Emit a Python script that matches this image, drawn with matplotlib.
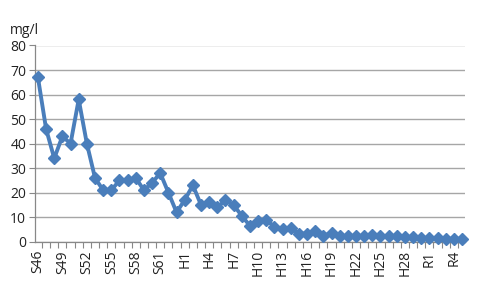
import matplotlib
matplotlib.use("Agg")
import matplotlib.pyplot as plt
from matplotlib.ticker import FixedLocator, MultipleLocator

categories = ([f"S{i}" for i in range(46, 64)] + [f"H{i}" for i in range(1, 31)]
              + [f"R{i}" for i in range(1, 6)])
values = [67, 46, 34, 43, 40, 58, 40, 26, 21, 21,
          25, 25, 26, 21, 24, 28, 20, 12, 17, 23,
          15, 16, 14, 17, 15, 10.5, 6.5, 8.5, 9, 6,
          5, 5.5, 3.3, 3.3, 4.4, 2.5, 3.4, 2.2, 2.4, 2.3,
          2.2, 2.8, 2.3, 2.4, 2.2, 2.0, 1.8, 1.7, 1.4, 1.6,
          1.3, 1.1, 1.2]
label_every = 3
y_label = "mg/l"

plt.rcParams['font.family'] = ['Open Sans', 'DejaVu Sans']
fig = plt.figure(figsize=(4.8, 2.88), dpi=100)
ax = fig.add_axes([34.5/480, 1-241.7/288, (465-34.5)/480, (241.7-45.5)/288])

x = list(range(len(values)))
ax.plot(x, values, color="#4a7ebb", linewidth=2.8, marker="D", markersize=6.5,
        markeredgecolor="#4a7ebb", markerfacecolor="#4a7ebb", zorder=3, clip_on=False)

ax.set_ylim(0, 80)
ax.set_xlim(-0.42, len(values) - 1 + 0.37)
ax.yaxis.set_major_locator(MultipleLocator(10))
ax.grid(axis="y", color="#a6a6a6", linewidth=1.0)
ax.set_axisbelow(True)

major = list(range(0, len(values), label_every))
ax.xaxis.set_major_locator(FixedLocator(major))
ax.set_xticklabels([categories[i] for i in major], rotation=90, fontsize=10, color="#222222")
ax.xaxis.set_minor_locator(FixedLocator([i + 0.5 for i in range(-1, len(values))]))
ax.tick_params(axis="x", which="major", length=0, pad=6)
ax.tick_params(axis="x", which="minor", length=4, color="#888888", width=0.8)
ax.tick_params(axis="y", length=4, color="#888888", width=0.8, labelsize=10,
               labelcolor="#222222", pad=2)

for s in ["top", "right"]:
    ax.spines[s].set_visible(False)
for s in ["left", "bottom"]:
    ax.spines[s].set_color("#888888")
    ax.spines[s].set_linewidth(0.9)

fig.text(10/480, 1-34/288, y_label, fontsize=10, color="#222222", va="baseline")

fig.savefig("out.png", dpi=100)
